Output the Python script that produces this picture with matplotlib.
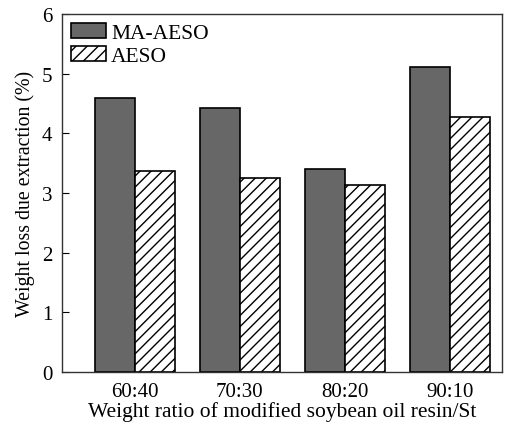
import matplotlib
matplotlib.use("Agg")
import matplotlib.pyplot as plt
import numpy as np

categories = ["60:40", "70:30", "80:20", "90:10"]
ma_aeso = [4.59, 4.42, 3.40, 5.11]
aeso = [3.37, 3.25, 3.14, 4.27]

plt.rcParams['font.family'] = ['Liberation Serif']
plt.rcParams['hatch.linewidth'] = 1.0

fig = plt.figure(figsize=(5.11, 4.27), dpi=100)
ax = fig.add_axes([0.1213, 0.1265, 0.8607, 0.8384])

x = np.arange(len(categories))
w = 0.381
ax.bar(x - w/2, ma_aeso, w, color='#676767', edgecolor='black', linewidth=1.2, label='MA-AESO')
ax.bar(x + w/2, aeso, w, color='white', edgecolor='black', linewidth=1.2, hatch='///', label='AESO')

ax.set_xlim(-0.695, 3.495)
ax.set_ylim(0, 6)
ax.set_xticks(x)
ax.set_xticklabels(categories)
ax.set_yticks(range(7))
ax.tick_params(axis='x', length=0, labelsize=15, pad=7)
ax.tick_params(axis='y', direction='in', length=5, labelsize=15, right=False, pad=7)
for s in ax.spines.values():
    s.set_linewidth(1.0)
    s.set_color('#333333')
ax.set_xlabel('Weight ratio of modified soybean oil resin/St', fontsize=15.5, labelpad=0)
ax.set_ylabel('Weight loss due extraction (%)', fontsize=14.3, labelpad=5)
ax.legend(loc='upper left', bbox_to_anchor=(0.0, 1.0), frameon=False, fontsize=15.5,
          handlelength=1.63, handleheight=0.7, borderaxespad=0.0, borderpad=0.4,
          labelspacing=0.15, handletextpad=0.25)
fig.savefig('out.png', dpi=100)
